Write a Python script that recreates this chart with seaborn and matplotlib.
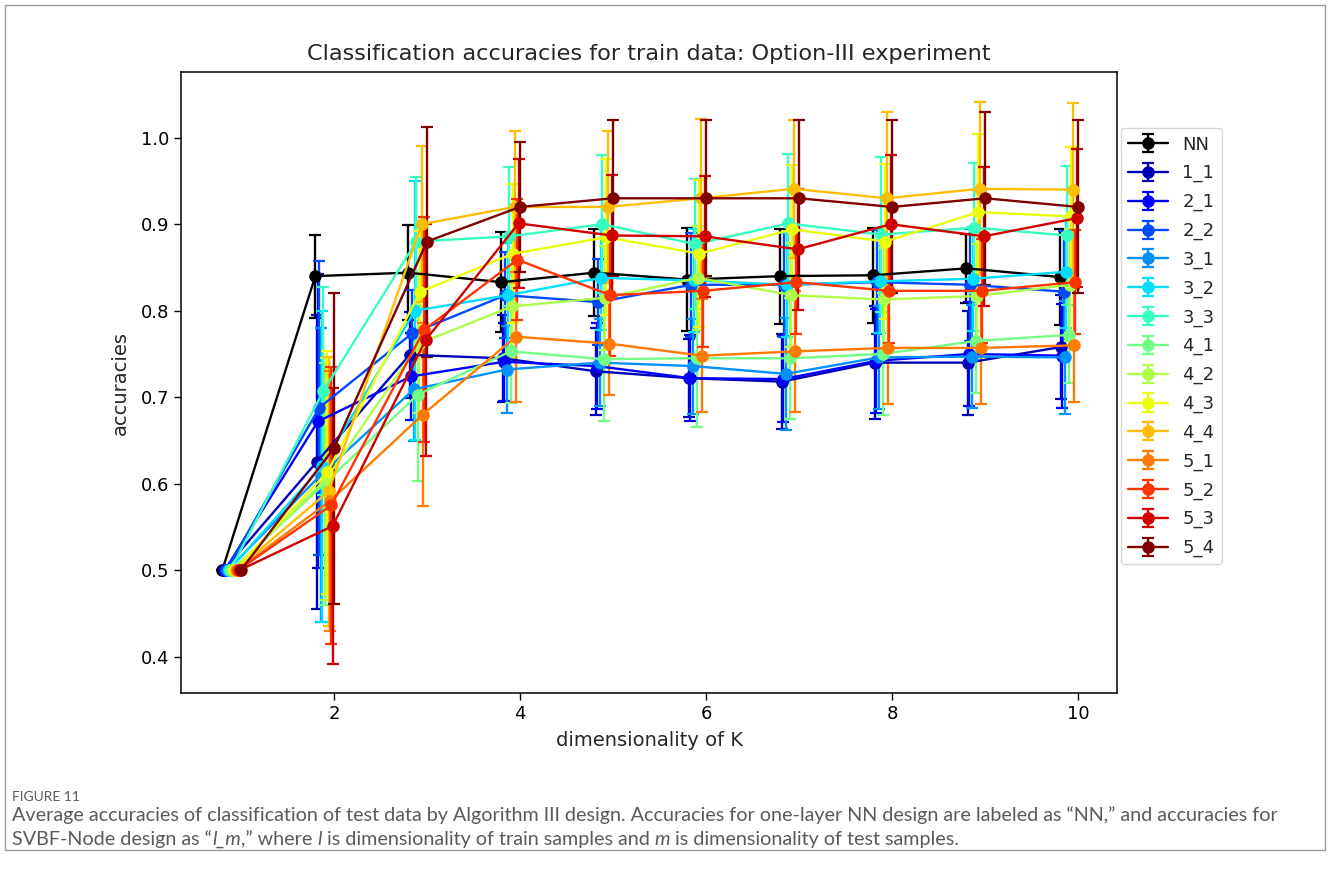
import numpy as np
import matplotlib
matplotlib.use("Agg")
import matplotlib.pyplot as plt
import seaborn as sns
from matplotlib.patches import Rectangle

# ====== data ======
K = [1, 2, 3, 4, 5, 6, 7, 8, 9, 10]
labels = ["NN", "1_1", "2_1", "2_2", "3_1", "3_2", "3_3", "4_1", "4_2",
          "4_3", "4_4", "5_1", "5_2", "5_3", "5_4"]

acc_NN  = [0.5, 0.840, 0.844, 0.833, 0.844, 0.836, 0.840, 0.841, 0.849, 0.839]
acc_1_1 = [0.5, 0.625, 0.749, 0.745, 0.730, 0.722, 0.718, 0.740, 0.740, 0.758]
acc_2_1 = [0.5, 0.672, 0.724, 0.741, 0.736, 0.722, 0.721, 0.742, 0.750, 0.748]
acc_2_2 = [0.5, 0.688, 0.774, 0.818, 0.810, 0.830, 0.830, 0.833, 0.830, 0.822]
acc_3_1 = [0.5, 0.610, 0.709, 0.732, 0.740, 0.736, 0.727, 0.746, 0.747, 0.746]
acc_3_2 = [0.5, 0.620, 0.800, 0.818, 0.838, 0.835, 0.830, 0.834, 0.837, 0.845]
acc_3_3 = [0.5, 0.707, 0.880, 0.886, 0.900, 0.877, 0.901, 0.888, 0.896, 0.887]
acc_4_1 = [0.5, 0.600, 0.703, 0.753, 0.744, 0.745, 0.745, 0.750, 0.765, 0.772]
acc_4_2 = [0.5, 0.605, 0.762, 0.805, 0.815, 0.838, 0.818, 0.813, 0.817, 0.830]
acc_4_3 = [0.5, 0.613, 0.822, 0.866, 0.885, 0.866, 0.894, 0.880, 0.914, 0.909]
acc_4_4 = [0.5, 0.591, 0.900, 0.920, 0.920, 0.930, 0.941, 0.930, 0.941, 0.940]
acc_5_1 = [0.5, 0.580, 0.680, 0.770, 0.762, 0.748, 0.753, 0.757, 0.757, 0.760]
acc_5_2 = [0.5, 0.575, 0.778, 0.859, 0.818, 0.823, 0.833, 0.823, 0.823, 0.833]
acc_5_3 = [0.5, 0.551, 0.766, 0.901, 0.887, 0.886, 0.871, 0.900, 0.886, 0.907]
acc_5_4 = [0.5, 0.641, 0.880, 0.920, 0.930, 0.930, 0.930, 0.920, 0.930, 0.920]

std_NN  = [0, 0.048, 0.055, 0.058, 0.050, 0.060, 0.055, 0.055, 0.040, 0.055]
std_1_1 = [0, 0.170, 0.050, 0.050, 0.050, 0.045, 0.055, 0.065, 0.060, 0.060]
std_2_1 = [0, 0.170, 0.050, 0.045, 0.050, 0.050, 0.050, 0.060, 0.060, 0.060]
std_2_2 = [0, 0.170, 0.050, 0.050, 0.050, 0.060, 0.060, 0.060, 0.065, 0.070]
std_3_1 = [0, 0.170, 0.060, 0.050, 0.050, 0.055, 0.065, 0.060, 0.060, 0.065]
std_3_2 = [0, 0.180, 0.150, 0.060, 0.060, 0.060, 0.060, 0.060, 0.060, 0.065]
std_3_3 = [0, 0.120, 0.075, 0.080, 0.080, 0.075, 0.080, 0.090, 0.075, 0.080]
std_4_1 = [0, 0.140, 0.100, 0.060, 0.072, 0.080, 0.070, 0.070, 0.060, 0.055]
std_4_2 = [0, 0.140, 0.080, 0.060, 0.060, 0.060, 0.060, 0.060, 0.060, 0.065]
std_4_3 = [0, 0.140, 0.070, 0.080, 0.090, 0.085, 0.075, 0.090, 0.090, 0.080]
std_4_4 = [0, 0.155, 0.090, 0.088, 0.088, 0.092, 0.080, 0.100, 0.100, 0.100]
std_5_1 = [0, 0.150, 0.106, 0.075, 0.060, 0.065, 0.070, 0.065, 0.065, 0.065]
std_5_2 = [0, 0.160, 0.130, 0.070, 0.070, 0.065, 0.060, 0.060, 0.060, 0.060]
std_5_3 = [0, 0.160, 0.134, 0.075, 0.070, 0.070, 0.070, 0.080, 0.080, 0.080]
std_5_4 = [0, 0.180, 0.133, 0.075, 0.090, 0.090, 0.090, 0.100, 0.100, 0.100]

accs = [acc_NN, acc_1_1, acc_2_1, acc_2_2, acc_3_1, acc_3_2, acc_3_3, acc_4_1,
        acc_4_2, acc_4_3, acc_4_4, acc_5_1, acc_5_2, acc_5_3, acc_5_4]
stds = [std_NN, std_1_1, std_2_1, std_2_2, std_3_1, std_3_2, std_3_3, std_4_1,
        std_4_2, std_4_3, std_4_4, std_5_1, std_5_2, std_5_3, std_5_4]

# ====== style ======
sns.set_style("ticks", {"axes.edgecolor": "black", "xtick.color": "black",
                        "ytick.color": "black"})
plt.rcParams["font.family"] = ["DejaVu Sans"]

jet = plt.get_cmap("jet")
palette = [(0, 0, 0)] + sns.color_palette(
    [jet(v) for v in np.linspace(0.05, 1.0, 14)])

fig = plt.figure(figsize=(13.3, 8.74), dpi=100)
ax = fig.add_axes([0.136, 0.2071, 0.704, 0.7105])

n = len(labels)
for i, (lab, y, e) in enumerate(zip(labels, accs, stds)):
    x = np.array(K) - 0.2 + i * 0.2 / (n - 1)
    ax.errorbar(x, y, yerr=e, color=palette[i], marker="o", markersize=8,
                linewidth=1.7, elinewidth=1.7, capsize=4, capthick=1.6,
                label=lab)

ax.set_xlim(0.355, 10.42)
ax.set_ylim(0.358, 1.076)
ax.set_xticks([2, 4, 6, 8, 10])
ax.set_yticks([0.4, 0.5, 0.6, 0.7, 0.8, 0.9, 1.0])
ax.set_yticklabels(["0.4", "0.5", "0.6", "0.7", "0.8", "0.9", "1.0"])
ax.tick_params(labelsize=13, length=5, width=1)
for s in ax.spines.values():
    s.set_linewidth(1.1)
ax.set_title("Classification accuracies for train data: Option-III experiment",
             fontsize=16.1, pad=9)
ax.set_xlabel("dimensionality of K", fontsize=14, labelpad=6)
ax.set_ylabel("accuracies", fontsize=14, labelpad=8)

ax.legend(loc="upper left", bbox_to_anchor=(1.0, 0.915), borderaxespad=0.2,
          fontsize=13, handlelength=2.2, labelspacing=0.585, frameon=True)

# ====== caption ======
grey = "#5a5a5a"
fig.add_artist(Rectangle((5 / 1330, 1 - 850 / 874), 1320 / 1330, 845 / 874,
                         transform=fig.transFigure, fill=False,
                         edgecolor="#9a9a9a", linewidth=1))
fig.text(12 / 1330, 1 - 797 / 874, "FIGURE 11", fontsize=10, color=grey,
         family="Lato", va="center")
cap_kw = dict(fontsize=14.2, color=grey, family="Lato")
fig.text(12 / 1330, 1 - 821 / 874,
         "Average accuracies of classification of test data by Algorithm III "
         "design. Accuracies for one-layer NN design are labeled as \u201cNN,\u201d "
         "and accuracies for", va="baseline", **cap_kw)
pieces = [("SVBF-Node design as \u201c", "normal"), ("l_m", "italic"),
          (",\u201d where ", "normal"), ("l", "italic"),
          (" is dimensionality of train samples and ", "normal"), ("m", "italic"),
          (" is dimensionality of test samples.", "normal")]
renderer = fig.canvas.get_renderer()
xpix = 12
for txt, st in pieces:
    t = fig.text(xpix / 1330, 1 - 845 / 874, txt, va="baseline", style=st,
                 **cap_kw)
    xpix = t.get_window_extent(renderer).x1

fig.savefig("out.png", dpi=100)
